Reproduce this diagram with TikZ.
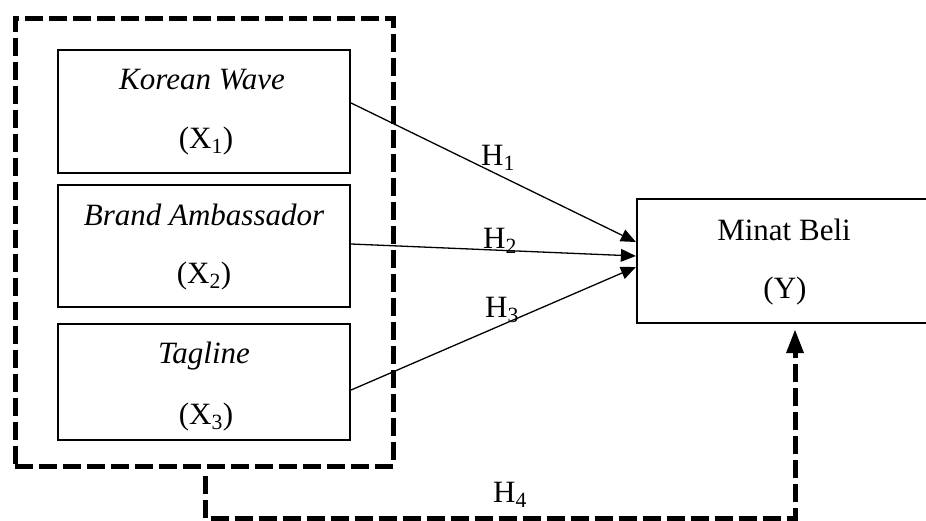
\documentclass[tikz,border=0pt]{standalone}
\usepackage{fontspec}
\setmainfont{Liberation Serif}
\usetikzlibrary{arrows.meta}
\begin{document}
\begin{tikzpicture}[x=1pt,y=-1pt,
  varbox/.style={draw,line width=2.2pt,rectangle,inner sep=0pt,minimum width=292pt},
  lbl/.style={anchor=base,inner sep=0pt,font=\fontsize{31}{37}\selectfont},
  grpbox/.style={draw,line width=5pt,dash pattern=on 18pt off 6pt,rectangle,inner sep=0pt},
  link/.style={line width=1.3pt,-{Triangle[length=15pt,width=13pt,line width=0pt]}},
  dlink/.style={line width=5pt,dash pattern=on 18pt off 6pt,-{Triangle[length=23pt,width=18pt,line width=0pt]}}
]
\useasboundingbox (0,0) rectangle (926,520);
% outer dashed group
\node[grpbox,minimum width=378pt,minimum height=448pt] (grp) at (204,242) {};
% variable boxes
\node[varbox,minimum height=123pt] (b1) at (204,111.5) {};
\node[varbox,minimum height=122pt] (b2) at (204,246) {};
\node[varbox,minimum height=116pt] (b3) at (204,382) {};
\node[draw,line width=2.2pt,rectangle,inner sep=0pt,minimum width=298pt,minimum height=124pt] (y) at (786,261) {};
% texts
\node[lbl] (t1) at (202,89) {\itshape Korean Wave};
\node[lbl] (t1x) at (206,148) {(X\textsubscript{1})};
\node[lbl] (t2) at (204,225) {\itshape Brand Ambassador};
\node[lbl] (t2x) at (204,283) {(X\textsubscript{2})};
\node[lbl] (t3) at (204,363) {\itshape Tagline};
\node[lbl] (t3x) at (206,424) {(X\textsubscript{3})};
\node[lbl] (ty) at (784,240) {Minat Beli};
\node[lbl] (tyy) at (785,298) {(Y)};
% connectors
\draw[link] ([yshift=8.5pt]b1.east) -- ([yshift=19pt]y.west);
\draw[link] ([yshift=2pt]b2.east) -- ([yshift=5pt]y.west);
\draw[link] ([yshift=-8pt]b3.east) -- ([yshift=-6pt]y.west);
\coordinate (h4s) at (205,476);
\coordinate (h4c) at (205,518);
\coordinate (h4e) at (795,330);
\draw[dlink] (h4s) -- (h4c) -| (h4e);
% labels
\node[lbl] (h1) at (498,165) {H\textsubscript{1}};
\node[lbl] (h2) at (500,248) {H\textsubscript{2}};
\node[lbl] (h3) at (502,317) {H\textsubscript{3}};
\node[lbl] (h4) at (510,502) {H\textsubscript{4}};
\end{tikzpicture}
\end{document}
